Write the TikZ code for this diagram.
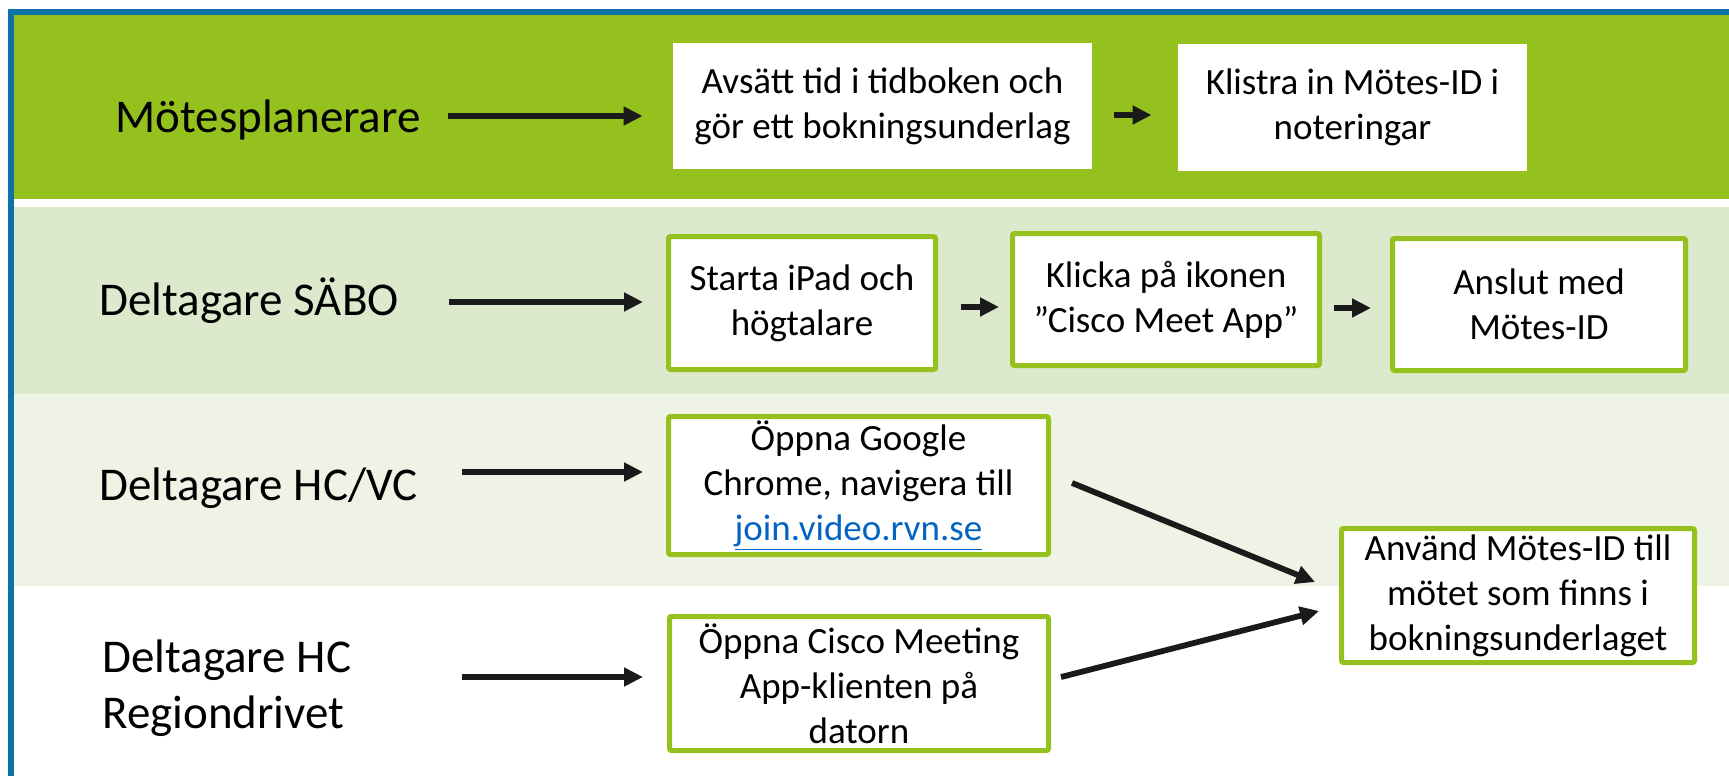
\documentclass[tikz,border=0pt]{standalone}
\usepackage{fontspec}
\setmainfont{Carlito}
\usetikzlibrary{arrows.meta}
\definecolor{bandgreen}{HTML}{95C11F}
\definecolor{rowtwo}{HTML}{DDE9CD}
\definecolor{rowthree}{HTML}{EFF3E6}
\definecolor{frameblue}{HTML}{0B73A8}
\definecolor{linkblue}{HTML}{0563C1}
\definecolor{arrowgray}{HTML}{1A1A1A}
\newcommand{\lanefont}{\fontsize{23.5}{28}\selectfont}
\newcommand{\boxfont}{\fontsize{18.5}{22.5}\selectfont}

\begin{document}
\begin{tikzpicture}[x=0.5pt, y=-0.5pt,
		lane/.style={anchor=base west, font=\lanefont, inner sep=0pt, align=left},
		notebox/.style={fill=white, align=center, font=\boxfont, inner sep=0pt},
		stepbox/.style={notebox, draw=bandgreen, line width=2.5pt, rounded corners=1pt},
		flow/.style={-{Triangle[length=9.5pt, width=9pt]}, line width=2.9pt, draw=arrowgray}]
				\clip (0,0) rectangle (1729,776);
				\fill[bandgreen] (14,15) rectangle (1729,199);
				\fill[rowtwo] (14,207) rectangle (1729,394);
				\fill[rowthree] (14,394) rectangle (1729,586);
				\draw[frameblue, line width=3pt] (11,12) rectangle (1800,850);
				\node[lane] (planner) at (115,132) {Mötesplanerare};
				\node[lane] (sabo) at (99,315) {Deltagare SÄBO};
				\node[lane] (hcvc) at (99,500) {Deltagare HC/VC};
				\node[lane] (hcreg) at (102,728) {Deltagare HC\\Regiondrivet};
				\node[notebox, minimum width=209.5pt, minimum height=63pt] (book) at (882.5,106) {Avsätt tid i tidboken och\\gör ett bokningsunderlag};
				\node[notebox, minimum width=174.5pt, minimum height=63.5pt] (paste) at (1352.5,107.5) {Klistra in Mötes-ID i\\noteringar};
				\node[stepbox, minimum width=133.5pt, minimum height=66.5pt] (ipad) at (802,303) {Starta iPad och\\högtalare};
				\node[stepbox, minimum width=153.5pt, minimum height=66pt] (icon) at (1166,299.5) {Klicka på ikonen\\”Cisco Meet App”};
				\node[stepbox, minimum width=146.5pt, minimum height=66pt] (connect) at (1539,304.5) {Anslut med\\Mötes-ID};
				\node[stepbox, minimum width=190pt, minimum height=69pt] (chrome) at (858.5,485.5) {Öppna Google\\Chrome, navigera till\\\textcolor{linkblue}{\underline{join.video.rvn.se}}};
				\node[stepbox, minimum width=189.5pt, minimum height=67pt] (client) at (859,683.5) {Öppna Cisco Meeting\\App-klienten på\\datorn};
				\node[stepbox, minimum width=176.5pt, minimum height=67pt] (useid) at (1518,595.5) {Använd Mötes-ID till\\mötet som finns i\\bokningsunderlaget};
				\coordinate (p1) at (448,116);
				\coordinate (p2) at (449,302);
				\coordinate (p3) at (462,472);
				\coordinate (p4) at (462,677);
				\draw[flow, shorten >=15pt] (p1) -- (p1 -| book.west);
				\draw[flow, shorten >=11.5pt] (p2) -- (p2 -| ipad.west);
				\draw[flow, shorten >=11.5pt] (p3) -- (p3 -| chrome.west);
				\draw[flow, shorten >=12pt] (p4) -- (p4 -| client.west);
				\draw[flow, shorten <=11pt, shorten >=13pt] ([yshift=-4.5pt]book.east) -- ([yshift=-4.5pt]book.east -| paste.west);
				\draw[flow, shorten <=11.5pt, shorten >=5.5pt] ([yshift=-2pt]ipad.east) -- ([yshift=-2pt]ipad.east -| icon.west);
				\draw[flow, shorten <=6pt, shorten >=9.5pt] ([yshift=-4.25pt]icon.east) -- ([yshift=-4.25pt]icon.east -| connect.west);
				\draw[flow, shorten <=11.35pt, shorten >=12.95pt] ([yshift=5.55pt]chrome.east) -- ([yshift=1.85pt]useid.west);
				\draw[flow, shorten <=5.15pt, shorten >=10.3pt] ([yshift=1.95pt]client.east) -- ([yshift=-5.2pt]useid.west);
			\end{tikzpicture}
\end{document}
